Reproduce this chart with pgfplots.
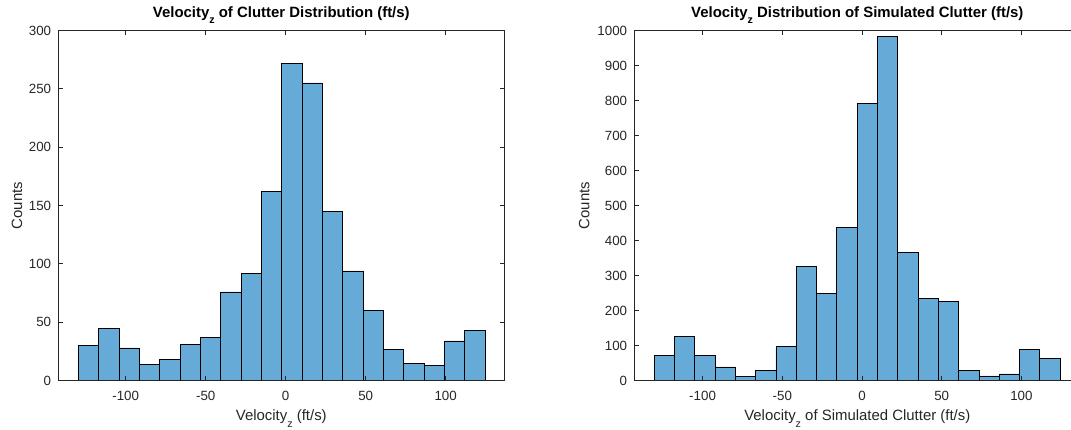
\documentclass[border=0pt]{standalone}
\usepackage{fontspec}
\setmainfont{Liberation Sans}
\usepackage{pgfplots}
\pgfplotsset{compat=1.18}
\usepackage{pgfplotstable}

\definecolor{histfill}{rgb}{0.4,0.668,0.845}
\definecolor{axgray}{rgb}{0.15,0.15,0.15}

% low-set subscript, as used in the titles and labels
\newcommand{\sub}[2][-4.6pt]{\raisebox{#1}{\fontsize{8}{9}\selectfont #2}}

% bin left edges and counts (last row closes the final bin)
\pgfplotstableread{
edge count
-129.60 30
-116.89 45
-104.18 28
-91.47 14
-78.76 18
-66.05 31
-53.34 37
-40.63 76
-27.92 92
-15.21 162
-2.50 272
10.21 255
22.92 145
35.63 94
48.34 60
61.05 27
73.76 15
86.47 13
99.18 34
111.89 43
124.60 0
}\clutter

\pgfplotstableread{
edge count
-130.40 71
-117.67 127
-104.94 71
-92.21 39
-79.48 11
-66.75 28
-54.02 97
-41.29 326
-28.56 249
-15.83 438
-3.10 792
9.63 983
22.36 366
35.09 234
47.82 227
60.55 28
73.28 13
86.01 19
98.74 88
111.47 63
124.20 0
}\simclutter

\pgfplotsset{
  histaxis/.style={
    scale only axis, width=334.2pt, height=262.5pt,
    anchor=south west,
    ymin=0,
    xtick={-100,-50,0,50,100},
    tick align=inside, major tick length=3.3pt,
    axis on top,
    axis line style={axgray, line width=0.55pt},
    every tick/.style={axgray, line width=0.55pt},
    tick label style={font=\fontsize{10}{12}\selectfont, text=axgray},
    /pgf/number format/assume math mode=true,
    /pgf/number format/1000 sep={},
    yticklabel style={xshift=-2pt},
    xticklabel style={yshift=-4.5pt},
    label style={font=\fontsize{11.2}{13}\selectfont, text=axgray},
    xlabel style={at={(axis description cs:0.5,-0.1137)}, anchor=base},
    every axis title/.style={at={(axis description cs:0.5,1.0377)}, anchor=base,
      font=\bfseries\fontsize{11.2}{13}\selectfont, text=black},
  },
  histbars/.style={ybar interval, fill=histfill, draw=black, line width=0.5pt},
}

\begin{document}
\begin{tikzpicture}
\begin{axis}[histaxis,
  at={(43.875pt,36.375pt)},
  xmin=-142, xmax=136.5, ymax=300, ytick distance=50,
  title={Velocity\sub{z} of Clutter Distribution (ft/s)},
  xlabel={Velocity\sub[-5.5pt]{z} (ft/s)},
  ylabel={Counts},
  ylabel style={at={(axis description cs:-0.0934,0.5)}, anchor=center},
]
\addplot[histbars] table[x=edge, y=count] {\clutter};
\end{axis}

\begin{axis}[histaxis,
  at={(475.875pt,36.375pt)},
  xmin=-142.7, xmax=136.8, ymax=1000, ytick distance=100,
  title={Velocity\sub{z} Distribution of Simulated Clutter (ft/s)},
  xlabel={Velocity\sub[-5.5pt]{z} of Simulated Clutter (ft/s)},
  ylabel={Counts},
  ylabel style={at={(axis description cs:-0.1128,0.5)}, anchor=center},
]
\addplot[histbars] table[x=edge, y=count] {\simclutter};
\end{axis}

\pgfresetboundingbox
\useasboundingbox (0,0) rectangle (803.25pt,321.75pt);
\end{tikzpicture}
\end{document}
